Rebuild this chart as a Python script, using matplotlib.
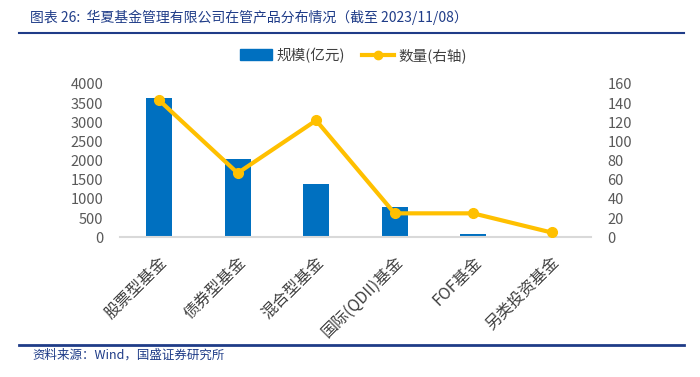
import numpy as np
import matplotlib
matplotlib.use("Agg")
import matplotlib.pyplot as plt
from matplotlib.lines import Line2D

plt.rcParams['font.family'] = ['Noto Sans CJK SC', 'DejaVu Sans']

# 数据
categories = ["股票型基金", "债券型基金", "混合型基金", "国际(QDII)基金", "FOF基金", "另类投资基金"]
scale = [3627, 2035, 1391, 791, 94, 30]      # 规模(亿元)
counts = [143, 67, 122, 25, 25, 5]           # 数量(右轴)

bar_color = "#0070C0"
line_color = "#FFC000"
tick_color = "#595959"
title_color = "#1F3C88"

fig = plt.figure(figsize=(7, 3.77), dpi=100)
ax = fig.add_axes([0.1714, 0.3706, 0.6725, 0.4066])
ax2 = ax.twinx()

x = np.arange(len(categories))
ax.bar(x, scale, width=0.33, color=bar_color, zorder=2)
ax2.plot(x, counts, color=line_color, lw=3, marker="o", ms=7, zorder=3)

ax.set_xlim(-0.5, len(categories) - 0.5)
ax.set_ylim(0, 4000)
ax.set_yticks(np.arange(0, 4001, 500))
ax2.set_ylim(0, 160)
ax2.set_yticks(np.arange(0, 161, 20))

ax.set_xticks(x)
ax.set_xticklabels(categories, rotation=45, ha="right", rotation_mode="anchor",
                   fontsize=11.5, color="#404040")
ax.tick_params(axis="x", length=0, pad=12)
ax.tick_params(axis="y", length=0, labelsize=10.5, labelcolor=tick_color, pad=12)
ax2.tick_params(axis="y", length=0, labelsize=10.5, labelcolor=tick_color, pad=12)

for a in (ax, ax2):
    for s in ["top", "right", "left", "bottom"]:
        a.spines[s].set_visible(False)
ax.spines["bottom"].set_visible(True)
ax.spines["bottom"].set_color("#D9D9D9")
ax.spines["bottom"].set_linewidth(1.5)

# 图例
handles = [plt.Rectangle((0, 0), 1, 1, color=bar_color),
           Line2D([0], [0], color=line_color, lw=3, marker="o", ms=6)]
fig.legend(handles, ["规模(亿元)", "数量(右轴)"], loc="center", bbox_to_anchor=(0.505, 0.854),
           ncol=2, frameon=False, fontsize=10.5, handlelength=2.2, columnspacing=1.2,
           handletextpad=0.3, labelcolor="#404040")

# 标题与来源
fig.text(0.043, 0.955, "图表 26:  华夏基金管理有限公司在管产品分布情况（截至 2023/11/08）",
         fontsize=10, color=title_color, style="italic", va="center")
fig.add_artist(Line2D([0.027, 0.977], [0.912, 0.912], color="#1F3C88", lw=1.5))
fig.add_artist(Line2D([0.027, 0.977], [0.085, 0.085], color="#1F3C88", lw=2))
fig.text(0.046, 0.058, "资料来源：Wind，国盛证券研究所", fontsize=9, color=title_color,
         style="italic", va="center")

fig.savefig("out.png", dpi=100)
